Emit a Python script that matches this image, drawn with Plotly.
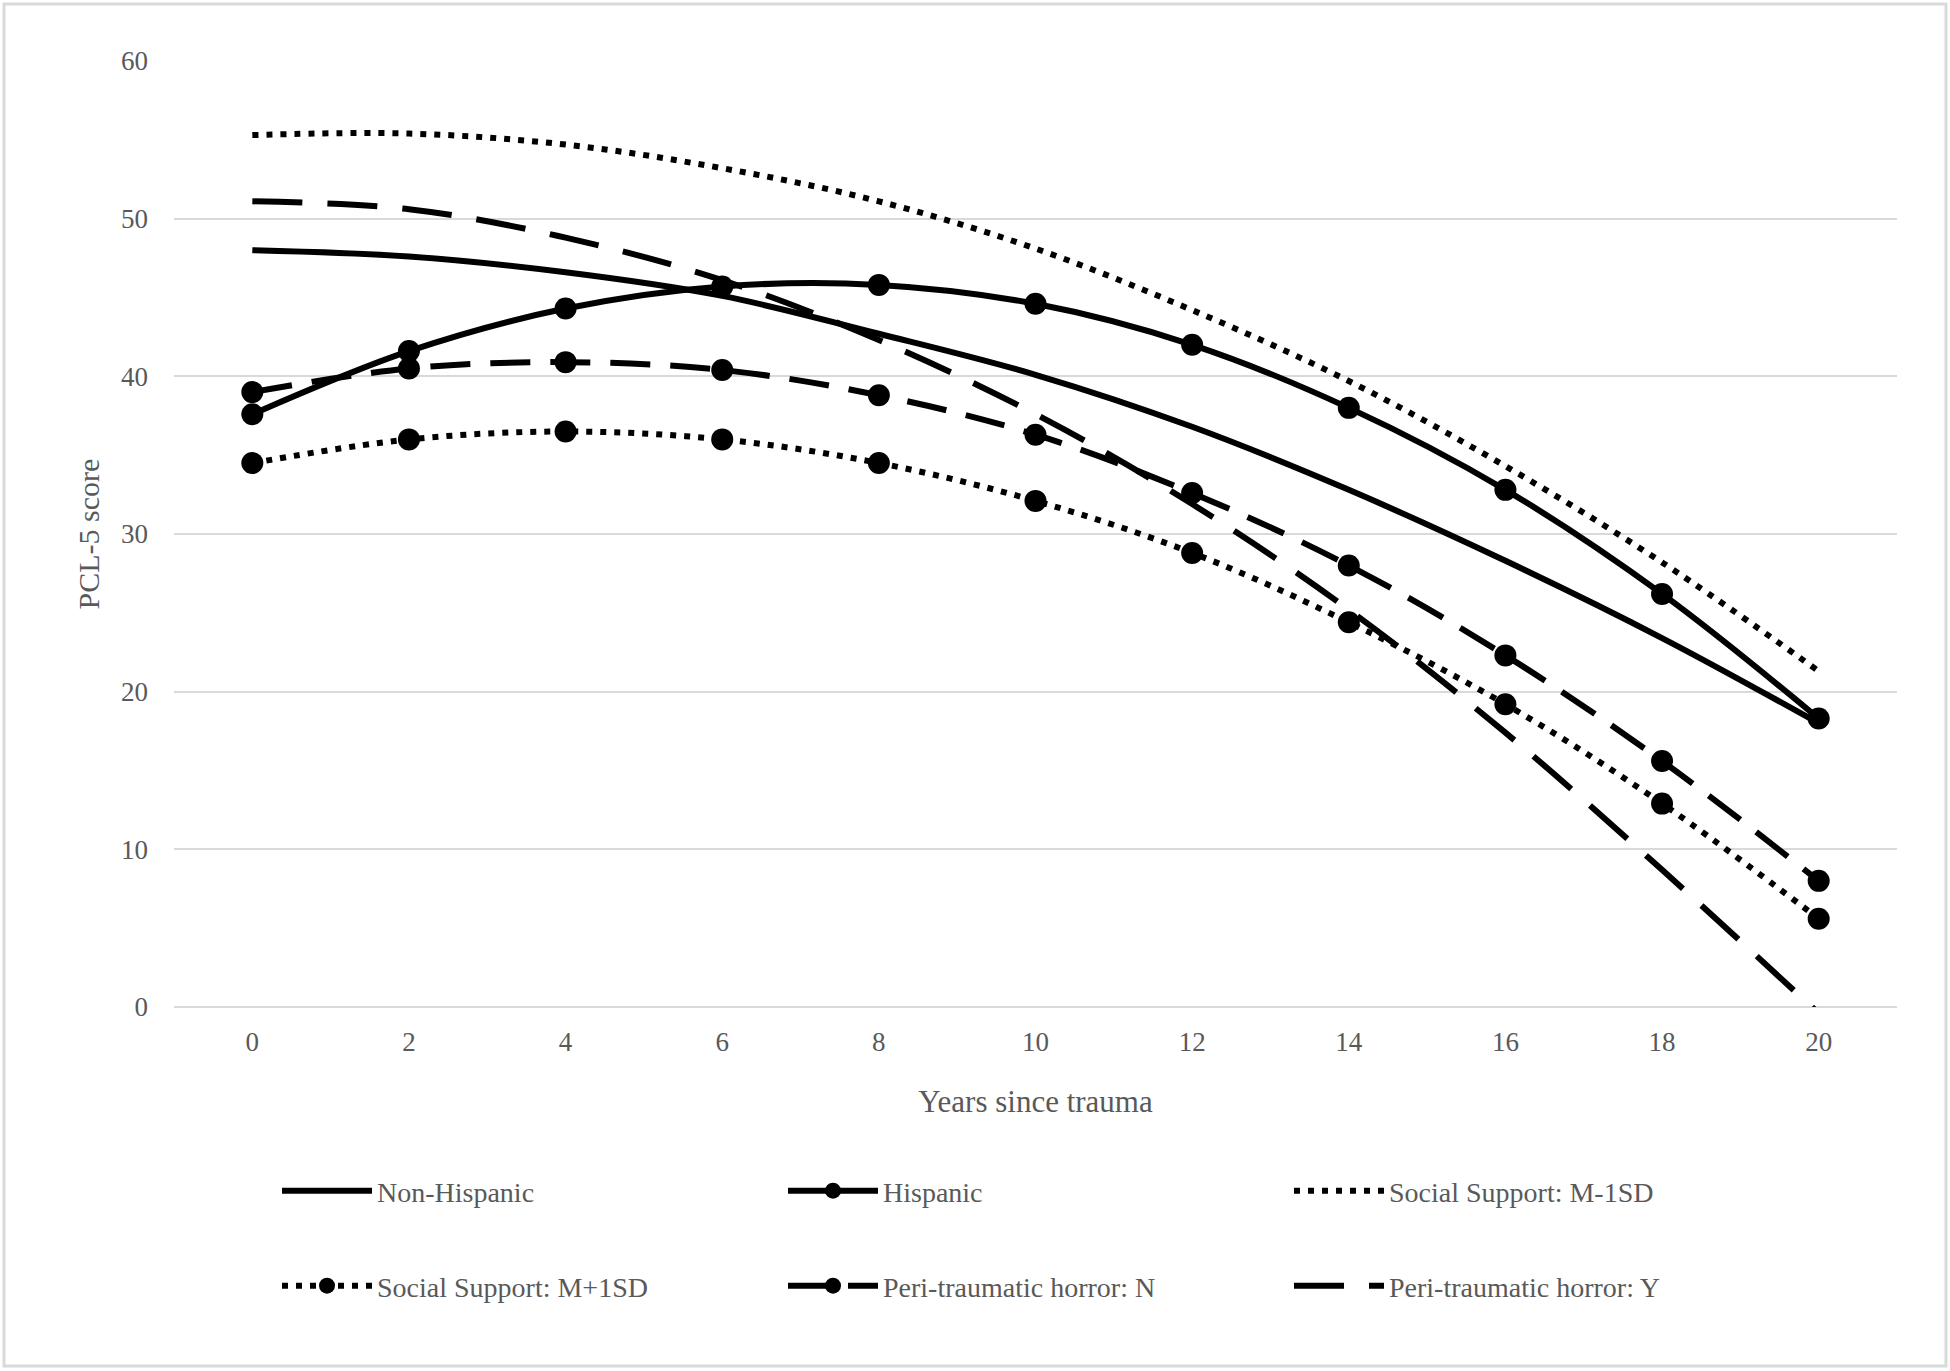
import plotly.graph_objects as go

years = [0, 2, 4, 6, 8, 10, 12, 14, 16, 18, 20]

non_hispanic = [48.0, 47.6, 46.6, 45.1, 42.7, 40.1, 36.8, 32.8, 28.3, 23.4, 18.0]
hispanic = [37.6, 41.6, 44.3, 45.7, 45.8, 44.6, 42.0, 38.0, 32.8, 26.2, 18.3]
ss_minus = [55.3, 55.4, 54.7, 53.2, 51.1, 48.1, 44.2, 39.7, 34.3, 28.2, 21.3]
ss_plus = [34.5, 36.0, 36.5, 36.0, 34.5, 32.1, 28.8, 24.4, 19.2, 12.9, 5.6]
horror_n = [39.0, 40.5, 40.9, 40.4, 38.8, 36.3, 32.6, 28.0, 22.3, 15.6, 8.0]
horror_y = [51.1, 50.6, 48.8, 46.1, 42.3, 37.6, 31.9, 25.2, 17.4, 8.7, -0.4]

y_ticks = [0, 10, 20, 30, 40, 50, 60]

FONT = "Liberation Serif"
TXT = "#595959"

series = [
    ("Non-Hispanic", non_hispanic, "solid", None, "legend"),
    ("Hispanic", hispanic, "solid", "circle", "legend"),
    ("Social Support: M-1SD", ss_minus, "6px,8px", None, "legend"),
    ("Social Support: M+1SD", ss_plus, "6px,8px", "circle", "legend2"),
    ("Peri-traumatic horror: N", horror_n, "40px,20px", "circle", "legend2"),
    ("Peri-traumatic horror: Y", horror_y, "50px,25px", None, "legend2"),
]

fig = go.Figure()
for name, vals, dash, marker, lg in series:
    mode = "lines+markers" if marker else "lines"
    kw = {}
    if marker:
        kw["marker"] = dict(symbol=marker, size=22, color="black")
    fig.add_trace(go.Scatter(
        x=years, y=vals, name=name, mode=mode,
        line=dict(color="black", width=6, dash=dash, shape="spline", smoothing=1.0),
        legend=lg, **kw))

ITEMW = 90
ENTRY = 501 - (ITEMW + 10)

legend_common = dict(
    orientation="h", xref="container", yref="container",
    xanchor="left", yanchor="middle",
    entrywidth=ENTRY, entrywidthmode="pixels", itemwidth=ITEMW,
    font=dict(family=FONT, size=28, color=TXT), bgcolor="rgba(0,0,0,0)",
    traceorder="normal",
)

fig.update_layout(
    width=1950, height=1371,
    paper_bgcolor="white", plot_bgcolor="white",
    margin=dict(l=174, r=53, t=61, b=364),
    font=dict(family=FONT, size=28, color=TXT),
    xaxis=dict(
        range=[-1, 21], tickmode="array", tickvals=years, ticktext=[str(v) for v in years],
        showgrid=False, zeroline=False, showline=False, ticks="",
        tickfont=dict(family=FONT, size=27, color=TXT), ticklabelstandoff=16,
        title=dict(text="Years since trauma", font=dict(family=FONT, size=31, color=TXT), standoff=34),
    ),
    yaxis=dict(
        range=[0, 60], tickmode="array", tickvals=y_ticks,
        showgrid=True, gridcolor="#d9d9d9", gridwidth=2,
        zeroline=True, zerolinecolor="#d9d9d9", zerolinewidth=2,
        showline=False, ticks="",
        tickfont=dict(family=FONT, size=27, color=TXT), ticklabelstandoff=25,
        title=dict(text="PCL-5 score", font=dict(family=FONT, size=30, color=TXT), standoff=12),
    ),
    legend=dict(x=277 / 1950, y=1 - 1191 / 1371, **legend_common),
    legend2=dict(x=277 / 1950, y=1 - 1286 / 1371, **legend_common),
    shapes=[dict(type="rect", xref="paper", yref="paper",
                 x0=-170 / 1723, x1=1 + 49 / 1723, y0=-359 / 946, y1=1 + 57 / 946,
                 line=dict(color="#d9d9d9", width=3), layer="below")],
)

fig.write_html("out.html", config={"displayModeBar": False},
               post_script="document.body.style.margin='0';")
